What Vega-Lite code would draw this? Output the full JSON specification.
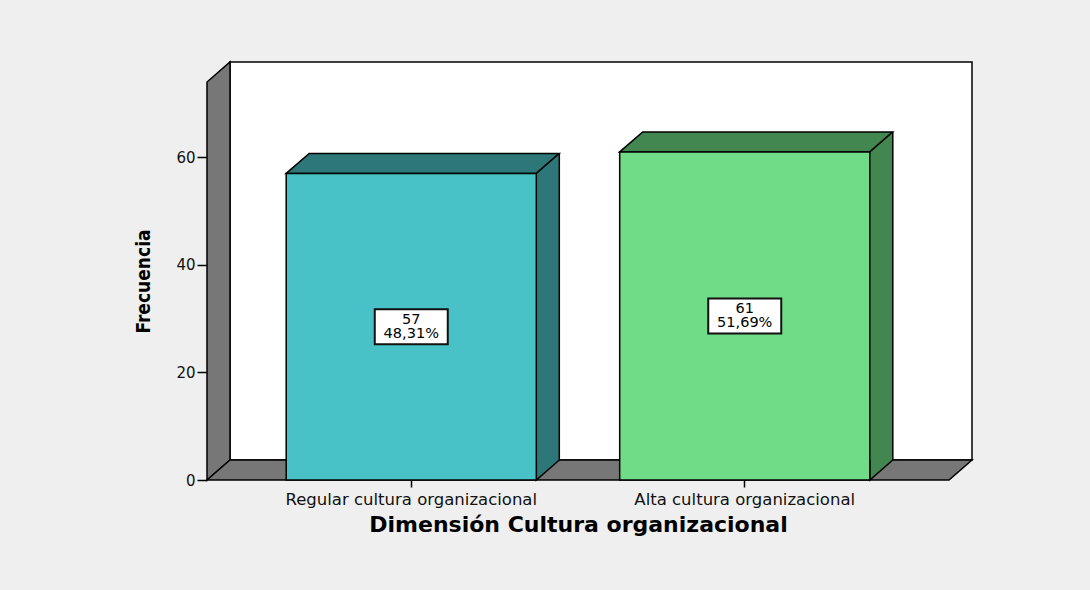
{
  "$schema": "https://vega.github.io/schema/vega-lite/v6.json",
  "width": 742,
  "height": 398,
  "autosize": {"type": "none"},
  "padding": {"left": 207, "top": 82, "right": 141, "bottom": 110},
  "background": "#efefef",
  "config": {
    "view": {"stroke": null},
    "font": "DejaVu Sans",
    "axisY": {
      "domain": false, "grid": false, "ticks": true, "tickSize": 10, "tickColor": "black", "tickWidth": 1.5,
      "labelFont": "DejaVu Sans", "labelFontSize": 15, "labelColor": "#111111", "labelPadding": 2,
      "titleFont": "Liberation Sans Narrow, DejaVu Sans Condensed, sans-serif", "titleFontWeight": "bold",
      "titleFontSize": 19, "titleColor": "black", "titlePadding": 22
    },
    "axisX": {
      "domain": false, "grid": false, "ticks": true, "tickSize": 7, "tickColor": "black", "tickWidth": 1.5,
      "labelFont": "DejaVu Sans", "labelFontSize": 16.5, "labelColor": "#111111", "labelPadding": 4, "labelLimit": 0, "labelAngle": 0,
      "titleFont": "DejaVu Sans", "titleFontWeight": "bold", "titleFontSize": 22, "titleColor": "black", "titlePadding": 7
    }
  },
  "data": {
    "values": [
      {"cat": "Regular cultura organizacional", "n": 57, "pct": "48,31%"},
      {"cat": "Alta cultura organizacional", "n": 61, "pct": "51,69%"}
    ]
  },
  "layer": [
    {
      "data": {"values": [{}]},
      "mark": {"type": "rect", "fill": "white", "stroke": "black", "strokeWidth": 1.5, "xOffset": 23, "x2Offset": 23, "yOffset": -20, "y2Offset": -20},
      "encoding": {
        "x": {"value": 0},
        "x2": {"value": "width"},
        "y": {"datum": 74, "type": "quantitative", "scale": {"domain": [0, 74], "nice": false}, "title": "Frecuencia", "axis": {"values": [0, 20, 40, 60], "title": "Frecuencia"}},
        "y2": {"datum": 0}
      }
    },
    {
      "data": {"values": [{}]},
      "mark": {"type": "point", "shape": "M0,0 L0,-398 L23,-418 L23,-20 Z", "size": 4, "filled": true, "fill": "#777777", "stroke": "black", "strokeWidth": 1.5, "opacity": 1},
      "encoding": {
        "x": {"value": 0},
        "y": {"datum": 0, "type": "quantitative", "title": "Frecuencia"}
      }
    },
    {
      "data": {"values": [{}]},
      "mark": {"type": "point", "shape": "M0,0 L23,-20 L765,-20 L742,0 Z", "size": 4, "filled": true, "fill": "#777777", "stroke": "black", "strokeWidth": 1.5, "opacity": 1},
      "encoding": {
        "x": {"value": 0},
        "y": {"datum": 0, "type": "quantitative", "title": "Frecuencia"}
      }
    },
    {
      "mark": {"type": "rect", "xOffset": 23, "x2Offset": 23, "yOffset": -20, "y2Offset": -20},
      "encoding": {
        "x": {"field": "cat", "type": "nominal", "sort": null, "scale": {"paddingInner": 0.25, "paddingOuter": 0.2375}, "title": "Dimensión Cultura organizacional", "axis": {"title": "Dimensión Cultura organizacional"}},
        "y": {"field": "n", "type": "quantitative", "title": "Frecuencia"},
        "y2": {"datum": 0},
        "fill": {"field": "cat", "type": "nominal", "sort": null, "scale": {"range": ["#2e7778", "#42874f"]}, "legend": null}
      }
    },
    {
      "mark": {"type": "point", "shape": "M0,0 L23,-20 L273,-20 L250,0 Z", "size": 4, "filled": true, "stroke": "black", "strokeWidth": 1.5, "opacity": 1},
      "encoding": {
        "x": {"field": "cat", "type": "nominal", "sort": null, "bandPosition": 0, "title": "Dimensión Cultura organizacional"},
        "y": {"field": "n", "type": "quantitative", "title": "Frecuencia"},
        "fill": {"field": "cat", "type": "nominal", "sort": null, "legend": null}
      }
    },
    {
      "mark": {"type": "point", "shape": "M0,-20 L0,0 L23,-20", "size": 4, "filled": true, "stroke": "black", "strokeWidth": 1.5, "opacity": 1},
      "encoding": {
        "x": {"field": "cat", "type": "nominal", "sort": null, "bandPosition": 1, "title": "Dimensión Cultura organizacional"},
        "y": {"datum": 0, "type": "quantitative", "title": "Frecuencia"},
        "fill": {"field": "cat", "type": "nominal", "sort": null, "legend": null}
      }
    },
    {
      "mark": {"type": "rule", "xOffset": 23, "yOffset": -20, "y2Offset": -20, "stroke": "black", "strokeWidth": 1.5},
      "encoding": {
        "x": {"field": "cat", "type": "nominal", "sort": null, "bandPosition": 1, "title": "Dimensión Cultura organizacional"},
        "y": {"field": "n", "type": "quantitative", "title": "Frecuencia"},
        "y2": {"datum": 0}
      }
    },
    {
      "mark": {"type": "rect", "stroke": "black", "strokeWidth": 1.5},
      "encoding": {
        "x": {"field": "cat", "type": "nominal", "sort": null, "title": "Dimensión Cultura organizacional"},
        "y": {"field": "n", "type": "quantitative", "title": "Frecuencia"},
        "y2": {"datum": 0},
        "color": {"field": "cat", "type": "nominal", "sort": null, "scale": {"range": ["#48c2c7", "#70dc87"]}, "legend": null}
      }
    },
    {
      "transform": [{"calculate": "datum.n / 2", "as": "mid"}],
      "mark": {"type": "point", "shape": "M-36.5,-17.5 L36.5,-17.5 L36.5,17.5 L-36.5,17.5 Z", "size": 4, "filled": true, "fill": "white", "stroke": "#111111", "strokeWidth": 2, "opacity": 1},
      "encoding": {
        "x": {"field": "cat", "type": "nominal", "sort": null, "title": "Dimensión Cultura organizacional"},
        "y": {"field": "mid", "type": "quantitative", "title": "Frecuencia"}
      }
    },
    {
      "transform": [{"calculate": "datum.n / 2", "as": "mid"}],
      "mark": {"type": "text", "font": "DejaVu Sans", "fontSize": 14.5, "align": "center", "baseline": "middle", "color": "black", "dy": -7},
      "encoding": {
        "x": {"field": "cat", "type": "nominal", "sort": null, "title": "Dimensión Cultura organizacional"},
        "y": {"field": "mid", "type": "quantitative", "title": "Frecuencia"},
        "text": {"field": "n", "type": "quantitative"}
      }
    },
    {
      "transform": [{"calculate": "datum.n / 2", "as": "mid"}],
      "mark": {"type": "text", "font": "DejaVu Sans", "fontSize": 14.5, "align": "center", "baseline": "middle", "color": "black", "dy": 7},
      "encoding": {
        "x": {"field": "cat", "type": "nominal", "sort": null, "title": "Dimensión Cultura organizacional"},
        "y": {"field": "mid", "type": "quantitative", "title": "Frecuencia"},
        "text": {"field": "pct"}
      }
    }
  ]
}
